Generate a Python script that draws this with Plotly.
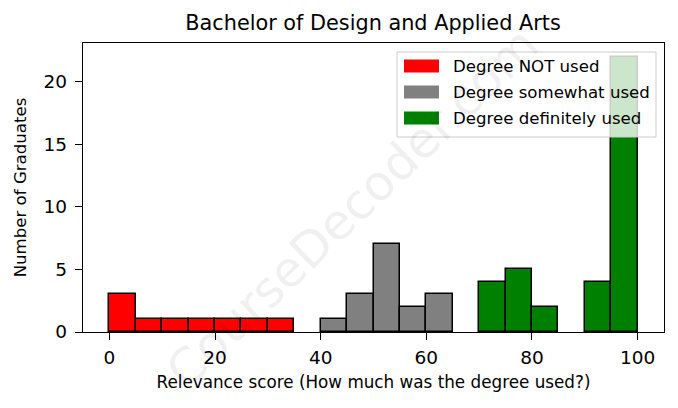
import plotly.graph_objects as go

# ---- data ----
bin_width = 5
not_used_bins = [0, 5, 10, 15, 20, 25, 30]
not_used_counts = [3, 1, 1, 1, 1, 1, 1]
somewhat_bins = [40, 45, 50, 55, 60]
somewhat_counts = [1, 3, 7, 2, 3]
definitely_bins = [70, 75, 80, 90, 95]
definitely_counts = [4, 5, 2, 4, 22]

series_names = ["Degree NOT used", "Degree somewhat used", "Degree definitely used"]
series_colors = ["#ff0000", "#808080", "#008000"]
x_ticks = [0, 20, 40, 60, 80, 100]
y_ticks = [0, 5, 10, 15, 20]

title = "Bachelor of Design and Applied Arts"
x_title = "Relevance score (How much was the degree used?)"
y_title = "Number of Graduates"

FONT = "DejaVu Sans"

fig = go.Figure()
for name, color, bins, counts in zip(
    series_names, series_colors,
    [not_used_bins, somewhat_bins, definitely_bins],
    [not_used_counts, somewhat_counts, definitely_counts],
):
    fig.add_trace(go.Bar(
        x=[b + bin_width / 2 for b in bins],
        y=counts,
        width=bin_width,
        name=name,
        marker=dict(color=color, line=dict(color="black", width=1.5)),
        showlegend=False,
    ))

W, H = 678, 408
L, R, T, B = 83, 14, 43, 76
pw, ph = W - L - R, H - T - B


def px(x):
    return (x - L) / pw


def py(y):
    return (H - B - y) / ph


shapes = []
annotations = []

# legend box
shapes.append(dict(type="rect", xref="paper", yref="paper",
                   x0=px(397), x1=px(656), y0=py(137), y1=py(52),
                   fillcolor="rgba(255,255,255,0.8)",
                   line=dict(color="rgb(204,204,204)", width=1), layer="above"))
row_y = [66, 92, 118]
for name, color, ry in zip(series_names, series_colors, row_y):
    shapes.append(dict(type="rect", xref="paper", yref="paper",
                       x0=px(404), x1=px(439), y0=py(ry + 6.5), y1=py(ry - 6.5),
                       fillcolor=color, line=dict(width=0), layer="above"))
    annotations.append(dict(text=name, xref="paper", yref="paper",
                            x=px(451), y=py(ry), xanchor="left", yanchor="middle",
                            showarrow=False, font=dict(family=FONT, size=16.6, color="black")))

# watermark
annotations.append(dict(text="CourseDecoder.com", xref="paper", yref="paper",
                        x=px(352), y=py(208), xanchor="center", yanchor="middle",
                        textangle=-44, showarrow=False,
                        font=dict(family=FONT, size=49, color="rgba(0,0,0,0.06)")))

fig.update_layout(
    width=W, height=H,
    margin=dict(l=L, r=R, t=T, b=B),
    plot_bgcolor="white", paper_bgcolor="white",
    bargap=0,
    font=dict(family=FONT, color="black"),
    title=dict(text=title, x=(185 + 561) / 2 / W, xanchor="center",
               y=1 - 23 / H, yanchor="middle", yref="container",
               font=dict(family=FONT, size=20.8, color="black")),
    shapes=shapes,
    annotations=annotations,
)
fig.update_xaxes(
    range=[-5, 105], tickvals=x_ticks, ticktext=[str(v) for v in x_ticks],
    showgrid=False, zeroline=False,
    showline=True, linecolor="black", linewidth=1.3, mirror=True,
    ticks="outside", ticklen=7, tickwidth=1.3, tickcolor="black",
    ticklabelstandoff=2,
    tickfont=dict(family=FONT, size=18.5, color="black"),
    title=dict(text=x_title, font=dict(family=FONT, size=16.8, color="black"), standoff=8),
)
fig.update_yaxes(
    range=[0, 23.1], tickvals=y_ticks, ticktext=[str(v) for v in y_ticks],
    showgrid=False, zeroline=False,
    showline=True, linecolor="black", linewidth=1.3, mirror=True,
    ticks="outside", ticklen=7, tickwidth=1.3, tickcolor="black",
    ticklabelstandoff=4,
    tickfont=dict(family=FONT, size=18.5, color="black"),
    title=dict(text=y_title, font=dict(family=FONT, size=16.6, color="black"), standoff=12),
)

fig.write_html("out.html", config={"displayModeBar": False},
               post_script="document.body.style.margin='0';")
